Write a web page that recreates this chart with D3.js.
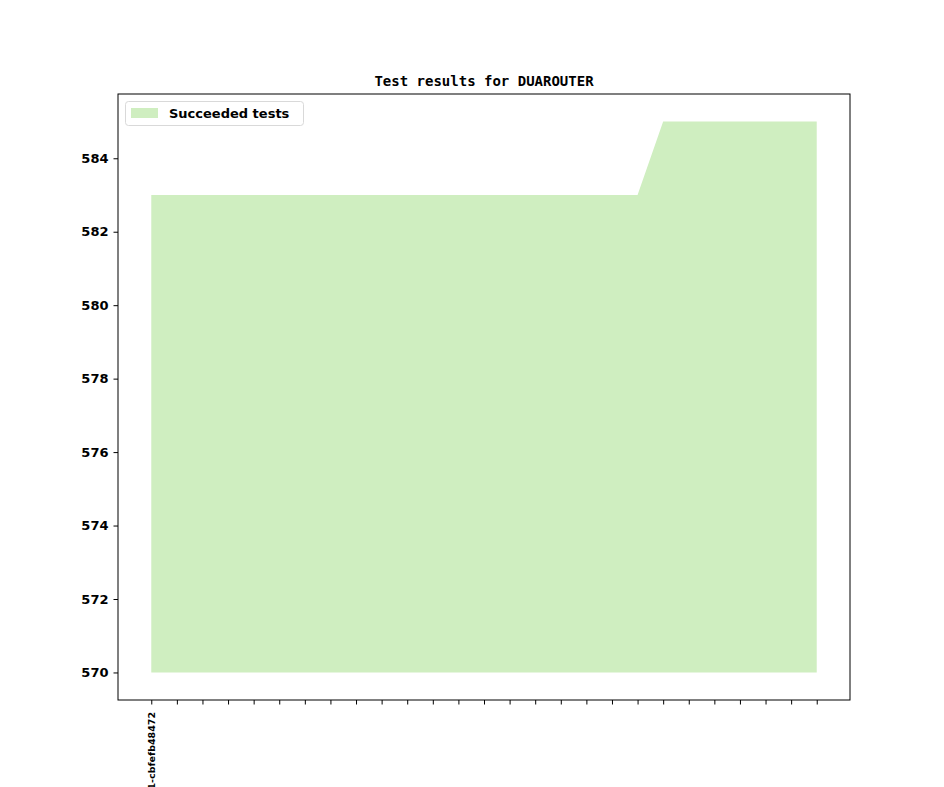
<!DOCTYPE html>
<html><head><meta charset="utf-8">
<script src="https://cdn.jsdelivr.net/npm/d3@7"></script>
<style>body{margin:0;background:#fff}svg{display:block}</style>
</head><body>
<script>
const title = "Test results for DUAROUTER";
const seriesName = "Succeeded tests";
const succeeded = [583,583,583,583,583,583,583,583,583,583,583,583,583,583,583,583,583,583,583,583,585,585,585,585,585,585,585];
const xLabels = succeeded.map((d,i)=> i===0 ? "v1_14_1+0121-cbfefb48472" : "");
const yTicks = [570,572,574,576,578,580,582,584];
const baseline = 570;

const W=944,H=787;
const m={l:118,r:850,t:94,b:700};
const svg=d3.select("body").append("svg").attr("width",W).attr("height",H);
const n=succeeded.length;
const x=d3.scaleLinear().domain([-0.05*(n-1),(n-1)*1.05]).range([m.l,m.r]);
const lo=Math.min(baseline,d3.min(succeeded)), hi=d3.max(succeeded);
const y=d3.scaleLinear().domain([lo-0.05*(hi-lo),hi+0.05*(hi-lo)]).range([m.b,m.t]);

svg.append("path").datum(succeeded)
 .attr("d",d3.area().x((d,i)=>x(i)).y0(y(baseline)).y1(d=>y(d)))
 .attr("fill","#cfeec0");

const xa=svg.append("g").attr("transform",`translate(0,${m.b})`)
 .call(d3.axisBottom(x).tickValues(d3.range(n)).tickFormat(i=>xLabels[i]).tickSize(4.5).tickPadding(4));
xa.select(".domain").remove();
xa.selectAll("line").attr("stroke","#000").attr("stroke-width",1);
xa.selectAll("text").attr("transform","rotate(-90)").attr("text-anchor","end")
 .attr("x",-12).attr("y",0).attr("dy","0.35em")
 .style("font-family","DejaVu Sans").style("font-weight","bold").style("font-size","9.5px").attr("fill","#000");

const ya=svg.append("g").attr("transform",`translate(${m.l},0)`)
 .call(d3.axisLeft(y).tickValues(yTicks).tickSize(4.5).tickPadding(5));
ya.select(".domain").remove();
ya.selectAll("line").attr("stroke","#000");
ya.selectAll("text").style("font-family","DejaVu Sans").style("font-weight","bold").style("font-size","13px").attr("fill","#000");

svg.append("rect").attr("x",m.l).attr("y",m.t).attr("width",m.r-m.l).attr("height",m.b-m.t)
 .attr("fill","none").attr("stroke","#000").attr("stroke-width",1);

svg.append("text").attr("x",(m.l+m.r)/2).attr("y",86).attr("text-anchor","middle")
 .style("font-family","DejaVu Sans Mono").style("font-weight","bold").style("font-size","14px").text(title);

const lg=svg.append("g");
lg.append("rect").attr("x",125.5).attr("y",101.5).attr("width",178).attr("height",24).attr("rx",3)
 .attr("fill","#fff").attr("fill-opacity",0.8).attr("stroke","#d9d9d9");
lg.append("rect").attr("x",131).attr("y",108).attr("width",27).attr("height",10).attr("fill","#cfeec0");
lg.append("text").attr("x",169).attr("y",118).style("font-family","DejaVu Sans").style("font-weight","bold")
 .style("font-size","13px").text(seriesName);
</script>
</body></html>
